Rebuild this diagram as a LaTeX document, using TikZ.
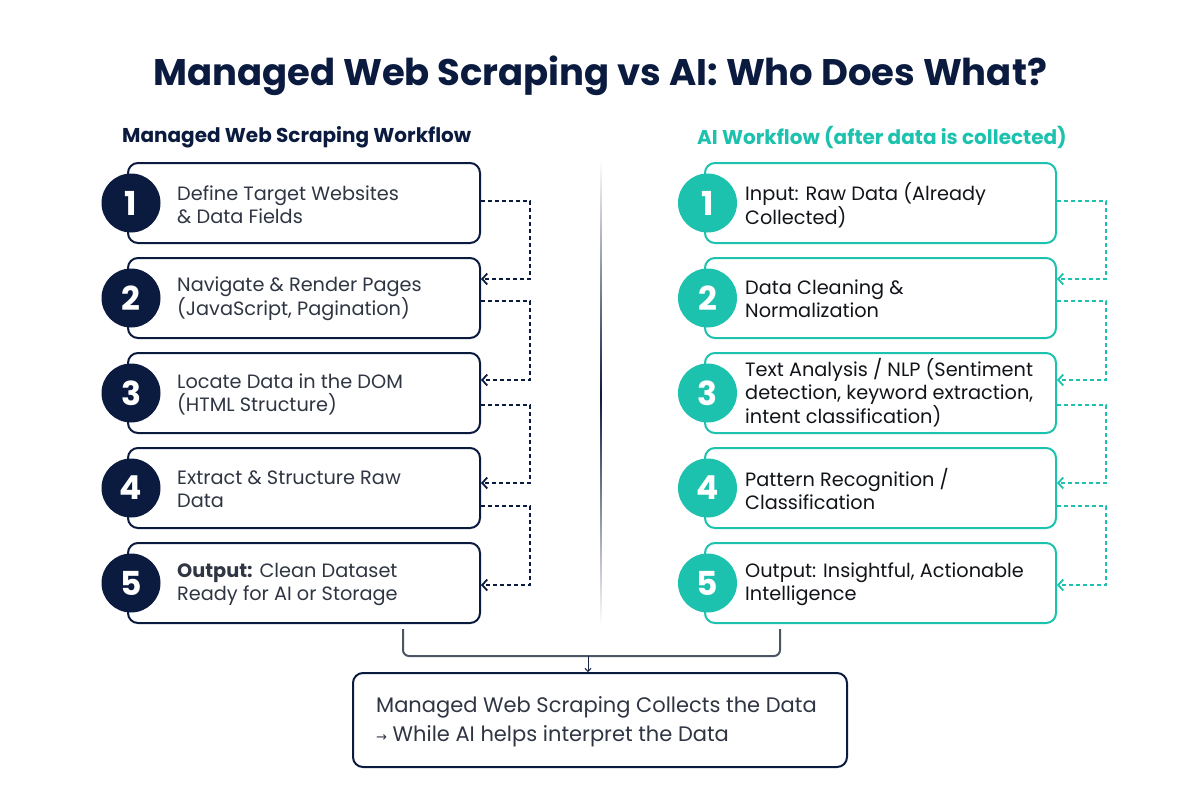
\documentclass[tikz,border=0pt]{standalone}
\usepackage{fontspec}
\setmainfont{Poppins}
\newfontfamily\dejavu{DejaVu Sans}
\usetikzlibrary{arrows.meta,calc}
\definecolor{navy}{HTML}{0B1B3F}
\definecolor{teal}{HTML}{1CC2AE}
\definecolor{ltext}{HTML}{2F3542}
\definecolor{rtext}{HTML}{111418}
\definecolor{brgray}{HTML}{4B5563}
\tikzset{
  lbox/.style={draw=navy,line width=2pt,rounded corners=10pt,minimum width=352pt,minimum height=80pt,inner sep=0pt,fill=white},
  rbox/.style={draw=teal,line width=2pt,rounded corners=10pt,minimum width=351pt,minimum height=80pt,inner sep=0pt,fill=white},
  lcirc/.style={circle,fill=navy,minimum size=59pt,inner sep=0pt,text=white,font=\fontsize{33}{33}\selectfont\bfseries},
  rcirc/.style={circle,fill=teal,minimum size=59pt,inner sep=0pt,text=white,font=\fontsize{33}{33}\selectfont\bfseries},
  ltxt/.style={anchor=west,align=left,inner sep=0pt,text=ltext,font=\fontsize{19.3}{23}\selectfont},
  rtxt/.style={anchor=west,align=left,inner sep=0pt,text=rtext,font=\fontsize{19.3}{23}\selectfont},
  ldash/.style={draw=navy,line width=1.8pt,dash pattern=on 4pt off 3pt,-{Straight Barb[length=5pt,width=11pt,line width=1.8pt]}},
  rdash/.style={draw=teal,line width=1.8pt,dash pattern=on 4pt off 3pt,-{Straight Barb[length=5pt,width=11pt,line width=1.8pt]}},
}
\begin{document}
\begin{tikzpicture}[x=1pt,y=-1pt]
\useasboundingbox[fill=white] (0,0) rectangle (1200,787);
% title
\node[text=navy,font=\fontsize{37}{44}\selectfont\bfseries] (title) at (600,76) {Managed Web Scraping vs AI: Who Does What?};
\node[text=navy,font=\fontsize{20}{24}\selectfont\bfseries,anchor=west,inner sep=0pt] (lhead) at (122,137) {Managed Web Scraping Workflow};
\node[text=teal,font=\fontsize{20}{24}\selectfont\bfseries,anchor=west,inner sep=0pt] (rhead) at (697,137) {AI Workflow (after data is collected)};
% divider
\shade[top color=white,bottom color=navy] (600.2,160) rectangle (601.8,395);
\shade[top color=navy,bottom color=white] (600.2,395) rectangle (601.8,625);
% left boxes
\node[lbox] (L1) at (304,203) {};
\node[lbox] (L2) at (304,298) {};
\node[lbox] (L3) at (304,393) {};
\node[lbox] (L4) at (304,488) {};
\node[lbox] (L5) at (304,583) {};
\node[lcirc] (LC1) at (131,203) {1};
\node[lcirc] (LC2) at (131,298) {2};
\node[lcirc] (LC3) at (131,393) {3};
\node[lcirc] (LC4) at (131,488) {4};
\node[lcirc] (LC5) at (131,583) {5};
\node[ltxt] (LT1) at (177,205) {Define Target Websites\\\& Data Fields};
\node[ltxt] (LT2) at (177,299) {Navigate \& Render Pages\\(JavaScript, Pagination)};
\node[ltxt] (LT3) at (177,394) {Locate Data in the DOM\\(HTML Structure)};
\node[ltxt] (LT4) at (177,489) {Extract \& Structure Raw\\Data};
\node[ltxt] (LT5) at (177,584) {\textbf{Output:} Clean Dataset\\Ready for AI or Storage};
% right boxes
\node[rbox] (R1) at (880.5,203) {};
\node[rbox] (R2) at (880.5,298) {};
\node[rbox] (R3) at (880.5,393) {};
\node[rbox] (R4) at (880.5,488) {};
\node[rbox] (R5) at (880.5,583) {};
\node[rcirc] (RC1) at (707.5,203) {1};
\node[rcirc] (RC2) at (707.5,298) {2};
\node[rcirc] (RC3) at (707.5,393) {3};
\node[rcirc] (RC4) at (707.5,488) {4};
\node[rcirc] (RC5) at (707.5,583) {5};
\node[rtxt] (RT1) at (745,205) {Input: Raw Data (Already\\Collected)};
\node[rtxt] (RT2) at (745,299) {Data Cleaning \&\\Normalization};
\node[rtxt] (RT3) at (745,393) {Text Analysis / NLP (Sentiment\\detection, keyword extraction,\\intent classification)};
\node[rtxt] (RT4) at (745,489) {Pattern Recognition /\\Classification};
\node[rtxt] (RT5) at (745,584) {Output: Insightful, Actionable\\Intelligence};
% left connectors
\draw[ldash] ($(L1.north east)+(0,39)$) -- ++(49,0) |- ($(L2.north east)+(0,22)$);
\draw[ldash] ($(L2.north east)+(0,44)$) -- ++(49,0) |- ($(L3.north east)+(0,28)$);
\draw[ldash] ($(L3.north east)+(0,53)$) -- ++(49,0) |- ($(L4.north east)+(0,36)$);
\draw[ldash] ($(L4.north east)+(0,59)$) -- ++(49,0) |- ($(L5.north east)+(0,43)$);
% right connectors
\draw[rdash] ($(R1.north east)+(0,39)$) -- ++(49,0) |- ($(R2.north east)+(0,22)$);
\draw[rdash] ($(R2.north east)+(0,44)$) -- ++(49,0) |- ($(R3.north east)+(0,28)$);
\draw[rdash] ($(R3.north east)+(0,53)$) -- ++(49,0) |- ($(R4.north east)+(0,36)$);
\draw[rdash] ($(R4.north east)+(0,59)$) -- ++(49,0) |- ($(R5.north east)+(0,43)$);
% bottom box
\node[draw=navy,line width=2pt,rounded corners=10pt,minimum width=494pt,minimum height=94pt,inner sep=0pt] (B) at (600,720) {};
\node[anchor=west,align=left,inner sep=0pt,text=ltext,font=\fontsize{21}{29}\selectfont] (BT) at (376,722) {Managed Web Scraping Collects the Data\\{\dejavu\fontsize{13}{13}\selectfont →} While AI helps interpret the Data};
% bracket
\draw[brgray,line width=2pt,rounded corners=6pt] ($(L5.south)+(99,5)$) -- ++(0,27) -| ($(R5.south)+(-100.5,5)$);
\coordinate (BJ) at ($(L5.south)+(284,32)$);
\draw[navy!80!brgray,line width=1pt,-{Straight Barb[length=3pt,width=6pt]}] (BJ) -- (BJ |- B.north);
\end{tikzpicture}
\end{document}
